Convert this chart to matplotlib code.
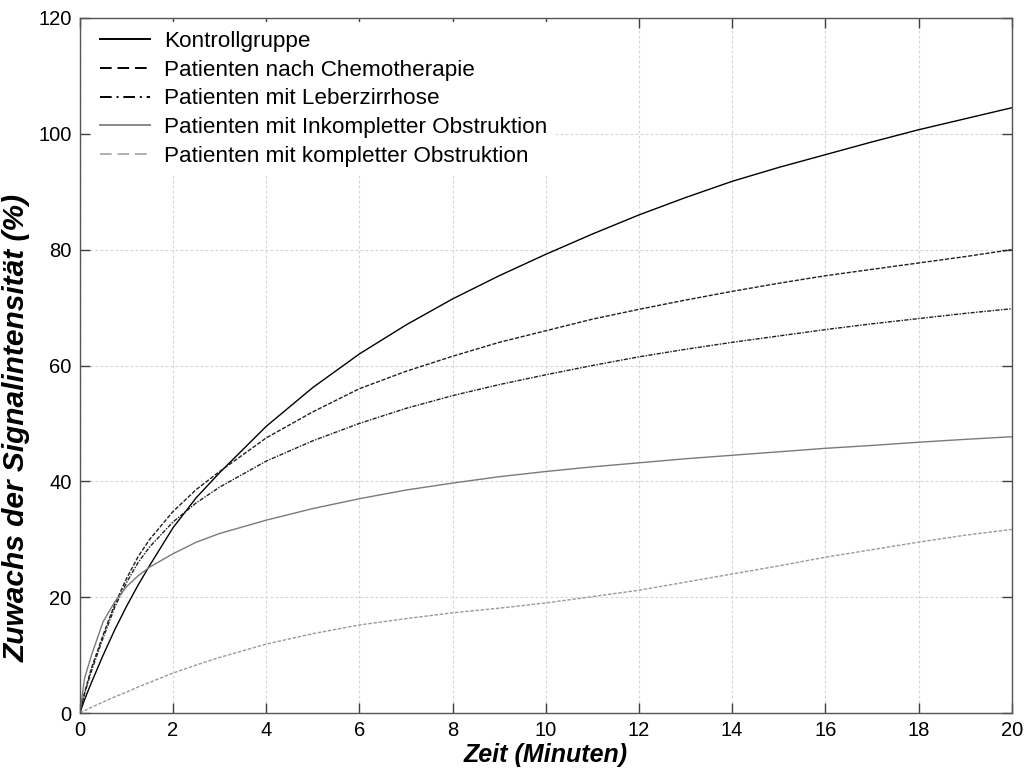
import matplotlib
matplotlib.use("Agg")
import matplotlib.pyplot as plt
from matplotlib.lines import Line2D

# Zeitpunkte (Minuten)
zeit = [0, 0.1, 0.25, 0.5, 0.75, 1, 1.25, 1.5, 2, 2.5, 3, 4, 5, 6, 7, 8,
        9, 10, 11, 12, 13, 14, 15, 16, 17, 18, 19, 20]

# Zuwachs der Signalintensität (%) je Gruppe
kontrolle = [0, 2.3, 5.3, 10, 14.4, 18.4, 22.1, 25.5, 32, 37.2, 41.5, 49.5,
             56.2, 62, 67, 71.5, 75.5, 79.2, 82.7, 86, 89, 91.8, 94.2, 96.4,
             98.6, 100.7, 102.6, 104.5]
chemo = [0, 3.5, 7.8, 13.5, 18.8, 23.2, 27, 30, 34.8, 38.6, 41.7, 47.5, 52,
         56, 59, 61.6, 64, 66, 68, 69.7, 71.3, 72.8, 74.2, 75.5, 76.6,
         77.7, 78.8, 80]
zirrhose = [0, 3.3, 7.3, 13, 18.3, 22.5, 26, 28.7, 33, 36.3, 39, 43.5, 47,
            50, 52.6, 54.8, 56.7, 58.4, 60, 61.5, 62.8, 64, 65.1, 66.2,
            67.2, 68.1, 69, 69.8]
inkomplett = [0, 6, 10, 15.8, 19.2, 21.8, 23.7, 25.2, 27.5, 29.5, 31, 33.3,
              35.3, 37, 38.5, 39.7, 40.8, 41.7, 42.5, 43.2, 43.9, 44.5,
              45.1, 45.7, 46.2, 46.75, 47.25, 47.7]
komplett = [0, 0.4, 1, 1.9, 2.8, 3.6, 4.5, 5.3, 6.9, 8.3, 9.6, 11.9, 13.7,
            15.2, 16.3, 17.3, 18.1, 19.0, 20.1, 21.2, 22.6, 24.0, 25.4,
            26.9, 28.2, 29.5, 30.7, 31.7]

labels = ["Kontrollgruppe",
          "Patienten nach Chemotherapie",
          "Patienten mit Leberzirrhose",
          "Patienten mit Inkompletter Obstruktion",
          "Patienten mit kompletter Obstruktion"]

x_ticks = [0, 2, 4, 6, 8, 10, 12, 14, 16, 18, 20]
y_ticks = [0, 20, 40, 60, 80, 100, 120]

plt.rcParams["font.family"] = ["Liberation Sans", "DejaVu Sans"]

fig = plt.figure(figsize=(10.24, 7.69), dpi=100)
ax = fig.add_axes([0.078, 0.0728, 0.910, 0.9038])

ax.plot(zeit, kontrolle, color="black", lw=1.0)
ax.plot(zeit, chemo, color="#202020", lw=1.0, dashes=(3, 1.2))
ax.plot(zeit, zirrhose, color="#202020", lw=1.0, dashes=(3, 1, 1, 1))
ax.plot(zeit, inkomplett, color="#7a7a7a", lw=1.0)
ax.plot(zeit, komplett, color="#9a9a9a", lw=1.0, dashes=(2.5, 1.2))

ax.set_xlim(0, 20)
ax.set_ylim(0, 120)
ax.set_xticks(x_ticks)
ax.set_yticks(y_ticks)
ax.tick_params(direction="in", length=7, width=1.0, color="#404040",
               labelsize=14.5, top=True, right=True, pad=6)
ax.grid(True, color="#d4d4d4", lw=0.8, dashes=(2.5, 2))
for s in ax.spines.values():
    s.set_color("#555555")
    s.set_linewidth(1.0)

ax.set_xlabel("Zeit (Minuten)", fontsize=18, fontweight="bold",
              fontstyle="italic", labelpad=2)
ax.set_ylabel("Zuwachs der Signalintensität (%)", fontsize=21.5,
              fontweight="bold", fontstyle="italic")
ax.yaxis.set_label_coords(-0.053, 0.41)

handles = [
    Line2D([], [], color="black", lw=1.4),
    Line2D([], [], color="black", lw=1.4, dashes=(6, 3)),
    Line2D([], [], color="black", lw=1.4, dashes=(6, 2.5, 1, 2.5)),
    Line2D([], [], color="#8a8a8a", lw=1.4),
    Line2D([], [], color="#b0b0b0", lw=1.4, dashes=(6, 3)),
]
leg = ax.legend(handles, labels, loc="upper left",
                bbox_to_anchor=(0.012, 0.994), fontsize=16.2,
                frameon=True, fancybox=False, borderpad=0.4,
                labelspacing=0.34, handlelength=2.2, handletextpad=0.65,
                borderaxespad=0)
leg.get_frame().set_facecolor("white")
leg.get_frame().set_edgecolor("none")
leg.get_frame().set_alpha(1)

fig.savefig("out.png", dpi=100)
